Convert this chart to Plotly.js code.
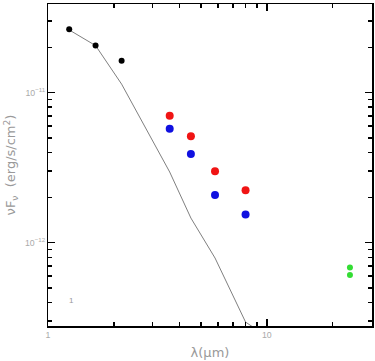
<!DOCTYPE html>
<html>
<head>
<meta charset="utf-8">
<script src="https://cdn.plot.ly/plotly-3.0.1.min.js"></script>
<style>html,body{margin:0;padding:0;background:#fff;}#chart{width:375px;height:361px;}</style>
</head>
<body>
<div id="chart"></div>
<script>
// Near-IR photometry (J, H, K)
const jhkWave = [1.25, 1.65, 2.17];
const jhkFlux = [2.65e-11, 2.06e-11, 1.63e-11];
// IRAC photometry, two epochs
const iracWave = [3.6, 4.5, 5.8, 8.0];
const iracRed = [7.03e-12, 5.12e-12, 2.99e-12, 2.24e-12];
const iracBlue = [5.75e-12, 3.90e-12, 2.08e-12, 1.54e-12];
// MIPS 24 micron
const mipsWave = [24, 24];
const mipsFlux = [6.85e-13, 6.09e-13];
// Photosphere model
const modelWave = [1.25, 1.65, 2.17, 3.6, 4.5, 5.8, 8.0, 24];
const modelFlux = [2.62e-11, 2.06e-11, 1.14e-11, 2.96e-12, 1.46e-12, 7.91e-13, 2.96e-13, 1.0e-13];

const traces = [
  {x: modelWave, y: modelFlux, mode: 'lines', line: {color: '#808080', width: 1}, hoverinfo: 'skip'},
  {x: jhkWave, y: jhkFlux, mode: 'markers', marker: {color: '#000000', size: 6}},
  {x: iracWave, y: iracRed, mode: 'markers', marker: {color: '#f01414', size: 8}},
  {x: iracWave, y: iracBlue, mode: 'markers', marker: {color: '#1010e0', size: 8}},
  {x: mipsWave, y: mipsFlux, mode: 'markers', marker: {color: '#33dd33', size: 6}}
];

const titleFont = {family: 'DejaVu Sans, Liberation Sans, sans-serif', size: 13, color: '#999'};

const axisCommon = {
  type: 'log',
  showgrid: false,
  zeroline: false,
  showline: true,
  linecolor: '#000',
  linewidth: 1.5,
  mirror: 'allticks',
  ticks: 'inside',
  ticklen: 7,
  tickwidth: 1.5,
  tickcolor: '#000',
  dtick: 1,
  exponentformat: 'power',
  tickfont: {family: 'Liberation Sans, Arial, sans-serif', size: 7, color: '#aaa'},
  minor: {ticks: 'inside', ticklen: 4, tickwidth: 1.5, tickcolor: '#000', dtick: 'D1', showgrid: false}
};

const layout = {
  width: 375, height: 361,
  margin: {l: 48, r: 3, t: 4, b: 35},
  paper_bgcolor: '#fff', plot_bgcolor: '#fff',
  showlegend: false,
  xaxis: Object.assign({}, axisCommon, {
    range: [0, 1.481],
    title: {text: 'λ(μm)', font: titleFont, standoff: 9}
  }),
  yaxis: Object.assign({}, axisCommon, {
    range: [-12.555, -10.409],
    title: {text: 'νF<sub>ν</sub>  (erg/s/cm<sup>2</sup>)', font: titleFont, standoff: 6}
  }),
  annotations: [
    {text: '1', xref: 'paper', yref: 'paper', x: 0.0586, y: 0.059, showarrow: false,
     font: {family: 'Liberation Sans, Arial, sans-serif', size: 8, color: '#999'}}
  ]
};

Plotly.newPlot('chart', traces, layout, {displayModeBar: false, staticPlot: true});
</script>
</body>
</html>
